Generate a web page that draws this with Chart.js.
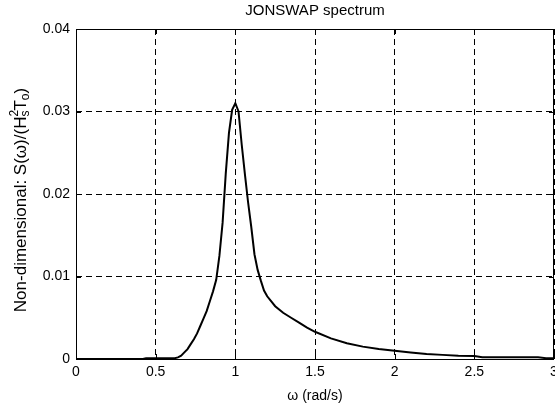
<!DOCTYPE html>
<html>
<head>
<meta charset="utf-8">
<script src="https://cdn.jsdelivr.net/npm/chart.js@4/dist/chart.umd.min.js"></script>
<style>
html,body{margin:0;padding:0;background:#fff;overflow:hidden;}
#wrap{width:555px;height:410px;position:relative;}
</style>
</head>
<body>
<div id="wrap"><canvas id="c" width="555" height="410"></canvas></div>
<script>
const omega = [0, 0.42, 0.44, 0.62, 0.64, 0.66, 0.68, 0.70, 0.72, 0.74, 0.76, 0.78, 0.80, 0.82, 0.84, 0.86, 0.88, 0.90, 0.92, 0.94, 0.96, 0.98, 1.00, 1.02, 1.04, 1.06, 1.08, 1.10, 1.12, 1.14, 1.16, 1.18, 1.20, 1.25, 1.30, 1.35, 1.40, 1.45, 1.50, 1.60, 1.70, 1.80, 1.90, 2.00, 2.10, 2.20, 2.30, 2.40, 2.50, 2.55, 2.90, 2.95, 3.00];
const spectrum = [0, 0, 0.0001, 0.0001, 0.0002, 0.0004, 0.0008, 0.0012, 0.0018, 0.0024, 0.0031, 0.0040, 0.0049, 0.0058, 0.0070, 0.0082, 0.0096, 0.0125, 0.0165, 0.0225, 0.0274, 0.0302, 0.0310, 0.0300, 0.0260, 0.0224, 0.0190, 0.0160, 0.0127, 0.0108, 0.0095, 0.0083, 0.0076, 0.0064, 0.0056, 0.0050, 0.0044, 0.0038, 0.0033, 0.0025, 0.0019, 0.0015, 0.0012, 0.0010, 0.0008, 0.0006, 0.0005, 0.0004, 0.00035, 0.0002, 0.0002, 0.0001, 0.0001];
const xTickLabels = ['0', '0.5', '1', '1.5', '2', '2.5', '3'];
const yTickLabels = ['0', '0.01', '0.02', '0.03', '0.04'];
const titleText = 'JONSWAP spectrum';
const xAxisLabel = 'ω (rad/s)';

const FONT = '"Liberation Sans", Arial, sans-serif';

const boxPlugin = {
  id: 'box',
  afterDraw(chart) {
    const {ctx, chartArea: a, scales: {x, y}} = chart;
    ctx.save();
    ctx.strokeStyle = '#000';
    ctx.lineWidth = 1;
    ctx.setLineDash([]);
    // inward ticks
    ctx.beginPath();
    x.ticks.forEach(t => {
      const px = Math.round(x.getPixelForValue(t.value)) + 0.5;
      ctx.moveTo(px, a.bottom); ctx.lineTo(px, a.bottom - 5);
      ctx.moveTo(px, a.top); ctx.lineTo(px, a.top + 5);
    });
    y.ticks.forEach(t => {
      const py = Math.round(y.getPixelForValue(t.value)) + 0.5;
      ctx.moveTo(a.left, py); ctx.lineTo(a.left + 5, py);
      ctx.moveTo(a.right, py); ctx.lineTo(a.right - 5, py);
    });
    ctx.stroke();
    ctx.strokeRect(Math.round(a.left) + 0.5, Math.round(a.top) + 0.5, Math.round(a.right - a.left) - 1, Math.round(a.bottom - a.top));
    // y label with super/subscripts
    const main = '17px ' + FONT, small = '12px ' + FONT;
    const parts = [
      {t: 'Non-dimensional: S(ω)/(H', f: main, dy: 0},
      {t: '2', f: small, dy: -6, stack: true},
      {t: 's', f: small, dy: 5},
      {t: 'T', f: main, dy: 0},
      {t: 'o', f: small, dy: 5},
      {t: ')', f: main, dy: 0}
    ];
    let total = 0;
    const widths = parts.map(p => { ctx.font = p.f; return ctx.measureText(p.t).width; });
    parts.forEach((p, i) => { if (!p.stack) total += widths[i]; });
    ctx.translate(21, 200);
    ctx.rotate(-Math.PI / 2);
    ctx.fillStyle = '#000';
    ctx.textBaseline = 'middle';
    ctx.textAlign = 'left';
    let cx = -total / 2;
    parts.forEach((p, i) => {
      ctx.font = p.f;
      ctx.fillText(p.t, cx, p.dy);
      if (!p.stack) cx += widths[i];
    });
    ctx.restore();
  }
};

new Chart(document.getElementById('c'), {
  type: 'line',
  data: {
    datasets: [{
      data: omega.map((w, i) => ({x: w, y: spectrum[i]})),
      borderColor: '#000',
      borderWidth: 2,
      pointRadius: 0,
      tension: 0,
      fill: false
    }]
  },
  options: {
    responsive: false,
    animation: false,
    events: [],
    layout: {padding: {left: 0, right: 1, top: 0, bottom: 0}},
    plugins: {
      legend: {display: false},
      tooltip: {enabled: false},
      title: {
        display: true,
        text: titleText,
        fullSize: false,
        color: '#000',
        font: {family: FONT, size: 15, weight: 'normal', lineHeight: 1.2},
        padding: {top: 2, bottom: 9}
      }
    },
    scales: {
      x: {
        type: 'linear',
        min: 0, max: 3,
        ticks: {
          stepSize: 0.5,
          autoSkip: false,
          maxRotation: 0,
          padding: 5,
          color: '#000',
          font: {family: FONT, size: 14},
          callback: (v, i) => xTickLabels[i]
        },
        grid: {
          color: '#000', lineWidth: 1, drawTicks: false
        },
        border: {display: false, dash: [6, 4]},
        title: {
          display: true, text: xAxisLabel, color: '#000',
          font: {family: FONT, size: 14, lineHeight: 1.2},
          padding: {top: 0, bottom: 5}
        },
        afterFit(s) { s.height = 51; s.paddingLeft = 0; s.paddingRight = 0; }
      },
      y: {
        type: 'linear',
        min: 0, max: 0.04,
        ticks: {
          stepSize: 0.01,
          padding: 6,
          color: '#000',
          font: {family: FONT, size: 14},
          callback: (v, i) => yTickLabels[i]
        },
        grid: {
          color: '#000', lineWidth: 1, drawTicks: false
        },
        border: {display: false, dash: [6, 4]},
        afterFit(s) { s.width = 76; s.paddingTop = 0; s.paddingBottom = 0; }
      }
    }
  },
  plugins: [boxPlugin]
});
</script>
</body>
</html>
